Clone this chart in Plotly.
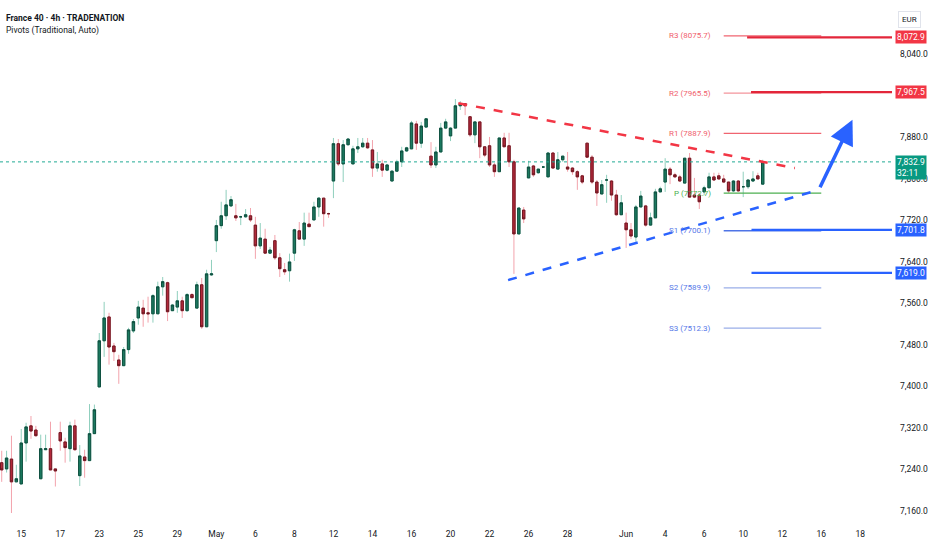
import plotly.graph_objects as go

# 4h candles, France 40
opens = [7253, 7241, 7260, 7216, 7212, 7291, 7324, 7316, 7222, 7278,
         7280, 7241, 7311, 7293, 7280, 7324, 7228, 7264, 7257, 7309,
         7399, 7488, 7534, 7478, 7451, 7440, 7471, 7507, 7532, 7551,
         7542, 7540, 7540, 7592, 7600, 7546, 7553, 7565, 7546, 7577,
         7551, 7596, 7515, 7615, 7681, 7710, 7729, 7748, 7729, 7727,
         7727, 7729, 7711, 7671, 7684, 7657, 7681, 7648, 7625, 7623,
         7657, 7700, 7684, 7713, 7721, 7746, 7763, 7733, 7796, 7868,
         7829, 7866, 7829, 7858, 7862, 7869, 7856, 7821, 7829, 7817,
         7796, 7815, 7833, 7854, 7858, 7906, 7869, 7900, 7844, 7827,
         7852, 7898, 7883, 7898, 7941, 7945, 7920, 7885, 7910, 7862,
         7864, 7827, 7814, 7879, 7864, 7833, 7694, 7740, 7802, 7825,
         7812, 7823, 7804, 7850, 7819, 7837, 7823, 7821, 7814, 7806,
         7869, 7842, 7794, 7771, 7798, 7796, 7769, 7731, 7715, 7702,
         7688, 7746, 7748, 7711, 7725, 7775, 7794, 7819, 7808, 7804,
         7792, 7840, 7769, 7769, 7775, 7783, 7804, 7806, 7800, 7794,
         7777, 7796, 7785, 7785, 7796, 7806, 7790]
highs = [7276, 7276, 7305, 7249, 7318, 7330, 7343, 7324, 7307, 7307,
         7332, 7241, 7332, 7301, 7332, 7336, 7287, 7278, 7366, 7365,
         7503, 7563, 7542, 7484, 7461, 7476, 7513, 7530, 7565, 7567,
         7573, 7578, 7602, 7611, 7602, 7559, 7584, 7573, 7580, 7580,
         7602, 7609, 7625, 7644, 7721, 7756, 7779, 7767, 7752, 7729,
         7742, 7744, 7727, 7715, 7704, 7669, 7692, 7657, 7638, 7656,
         7704, 7717, 7735, 7735, 7756, 7765, 7763, 7735, 7879, 7877,
         7875, 7879, 7864, 7879, 7879, 7879, 7875, 7852, 7837, 7829,
         7817, 7837, 7862, 7862, 7912, 7912, 7910, 7916, 7871, 7862,
         7908, 7916, 7900, 7954, 7950, 7945, 7920, 7910, 7910, 7862,
         7881, 7831, 7879, 7889, 7889, 7837, 7744, 7746, 7835, 7827,
         7819, 7825, 7852, 7852, 7852, 7844, 7852, 7823, 7817, 7808,
         7869, 7846, 7798, 7798, 7808, 7798, 7779, 7769, 7735, 7715,
         7750, 7777, 7750, 7735, 7781, 7785, 7840, 7823, 7812, 7808,
         7840, 7850, 7802, 7773, 7787, 7812, 7812, 7812, 7808, 7794,
         7798, 7798, 7814, 7798, 7815, 7812, 7837]
lows = [7216, 7234, 7156, 7216, 7212, 7255, 7299, 7303, 7222, 7278,
        7239, 7207, 7276, 7253, 7255, 7276, 7208, 7224, 7257, 7309,
        7399, 7457, 7442, 7449, 7405, 7440, 7463, 7503, 7519, 7515,
        7523, 7523, 7540, 7575, 7526, 7546, 7542, 7532, 7544, 7571,
        7551, 7511, 7515, 7613, 7659, 7704, 7721, 7746, 7719, 7711,
        7725, 7717, 7646, 7665, 7656, 7656, 7644, 7611, 7615, 7602,
        7642, 7684, 7671, 7708, 7721, 7727, 7708, 7725, 7763, 7825,
        7794, 7864, 7829, 7850, 7860, 7858, 7804, 7814, 7804, 7815,
        7796, 7814, 7823, 7852, 7858, 7856, 7860, 7900, 7821, 7821,
        7852, 7896, 7873, 7898, 7933, 7923, 7881, 7869, 7840, 7842,
        7823, 7804, 7814, 7862, 7823, 7617, 7694, 7715, 7802, 7804,
        7810, 7821, 7804, 7821, 7819, 7833, 7814, 7808, 7779, 7790,
        7842, 7790, 7748, 7771, 7754, 7758, 7729, 7731, 7667, 7684,
        7679, 7746, 7708, 7710, 7725, 7775, 7775, 7790, 7802, 7794,
        7792, 7765, 7763, 7742, 7769, 7783, 7796, 7798, 7792, 7773,
        7775, 7775, 7765, 7781, 7794, 7800, 7789]
closes = [7239, 7262, 7216, 7222, 7291, 7322, 7314, 7305, 7280, 7280,
          7239, 7237, 7295, 7282, 7324, 7278, 7266, 7257, 7309, 7355,
          7488, 7532, 7476, 7467, 7440, 7471, 7509, 7525, 7553, 7540,
          7540, 7575, 7592, 7602, 7544, 7557, 7565, 7546, 7577, 7571,
          7596, 7515, 7617, 7617, 7710, 7729, 7750, 7760, 7725, 7727,
          7731, 7721, 7671, 7686, 7657, 7663, 7648, 7627, 7621, 7640,
          7702, 7684, 7715, 7708, 7746, 7763, 7733, 7733, 7868, 7829,
          7866, 7877, 7858, 7862, 7869, 7860, 7821, 7829, 7817, 7827,
          7815, 7833, 7854, 7860, 7908, 7869, 7902, 7916, 7827, 7852,
          7898, 7910, 7898, 7941, 7945, 7941, 7885, 7910, 7862, 7846,
          7827, 7814, 7879, 7862, 7833, 7694, 7744, 7723, 7823, 7808,
          7819, 7823, 7850, 7821, 7837, 7844, 7819, 7814, 7804, 7794,
          7842, 7794, 7773, 7789, 7798, 7769, 7731, 7754, 7702, 7690,
          7746, 7767, 7711, 7725, 7775, 7781, 7819, 7808, 7804, 7796,
          7840, 7765, 7765, 7756, 7783, 7804, 7798, 7800, 7794, 7777,
          7796, 7777, 7785, 7798, 7800, 7800, 7832.9]

tick_pos = [4, 12, 20, 28, 36, 44, 52, 60, 68, 76, 84, 92, 100, 108, 116,
            128, 136, 144, 152, 160, 168, 176]
tick_text = ["15", "17", "23", "25", "29", "May", "6", "8", "12", "14", "16",
             "20", "22", "26", "28", "Jun", "4", "6", "10", "12", "16", "18"]
# 7,960.0 sits under the R2 level tag in the original, so it is left out
price_ticks = [7160, 7240, 7320, 7400, 7480, 7560, 7640, 7720, 7800, 7880, 8040]
price_text = ["7,160.0", "7,240.0", "7,320.0", "7,400.0", "7,480.0", "7,560.0",
              "7,640.0", "7,720.0", "7,800.0", "7,880.0", "8,040.0"]

pivot_names = ["R3", "R2", "R1", "P", "S1", "S2", "S3"]
pivot_vals = [8075.7, 7965.5, 7887.9, 7772.7, 7700.1, 7589.9, 7512.3]
levels = [8072.9, 7967.5, 7701.8, 7619.0]   # drawn key levels
last_price = 7832.9

x = list(range(len(opens)))
GREEN, RED = "#1b7a60", "#b3283a"

fig = go.Figure()
# wicks
fig.add_trace(go.Candlestick(
    x=x, open=opens, high=highs, low=lows, close=closes,
    increasing=dict(line=dict(color="#8fcfbd", width=1), fillcolor="#8fcfbd"),
    decreasing=dict(line=dict(color="#f3a3ac", width=1), fillcolor="#f3a3ac"),
    hoverinfo="skip", showlegend=False))
# bodies
body_hi = [max(o, c) for o, c in zip(opens, closes)]
body_lo = [min(o, c) for o, c in zip(opens, closes)]
fig.add_trace(go.Candlestick(
    x=x, open=opens, high=body_hi, low=body_lo, close=closes,
    increasing=dict(line=dict(color="#0f4f3f", width=1), fillcolor=GREEN),
    decreasing=dict(line=dict(color="#6e1822", width=1), fillcolor=RED),
    showlegend=False))

shapes = []
ann = []
# current price dotted line
shapes.append(dict(type="line", xref="paper", x0=0, x1=1, y0=last_price, y1=last_price,
                   line=dict(color="#22ab94", width=1, dash="dot")))

# pivots
piv_col = {"R": "#f0606c", "P": "#4caf50", "S": "#5577e8"}
line_col = {"R3": "#f06470", "R2": "#f3949b", "R1": "#f06470", "P": "#4caf50",
            "S1": "#4f74e6", "S2": "#9aaee8", "S3": "#9aaee8"}
for name, v in zip(pivot_names, pivot_vals):
    shapes.append(dict(type="line", x0=148, x1=168, y0=v, y1=v,
                       line=dict(color=line_col[name], width=1.3)))
    ann.append(dict(x=145.8, y=v, text=f"{name} ({v:.1f})", showarrow=False,
                    xanchor="right", font=dict(size=8, color=piv_col[name[0]])))

# thick levels
lvl_start = [152.8, 153.6, 153.7, 153.7]
lvl_col = ["#e3263a", "#e3263a", "#2962ff", "#2962ff"]
tag_col = ["#f23645", "#f23645", "#2962ff", "#2962ff"]
for v, s, c, t in zip(levels, lvl_start, lvl_col, tag_col):
    shapes.append(dict(type="line", x0=s, x1=183, y0=v, y1=v, line=dict(color=c, width=2.2)))
    ann.append(dict(xref="paper", x=1, y=v, xanchor="left", xshift=3, showarrow=False,
                    text=f"{v:,.1f}", bgcolor=t,
                    font=dict(size=8.5, color="white"), borderpad=1))

# price box with countdown
ann.append(dict(xref="paper", x=1, y=last_price, xanchor="left", xshift=3, yshift=-6,
                showarrow=False, text=f"{last_price:,.1f}<br>32:11", bgcolor="#089981",
                font=dict(size=8.5, color="white"), borderpad=1, align="left"))

# trendlines
shapes.append(dict(type="line", x0=93.6, y0=7946, x1=162.6, y1=7821,
                   line=dict(color="#f23645", width=2.5, dash="dash")))
shapes.append(dict(type="line", x0=103.8, y0=7605, x1=167.5, y1=7779,
                   line=dict(color="#2962ff", width=2.5, dash="dash")))

# arrow
ann.append(dict(x=174.4, y=7914, ax=167.6, ay=7781, axref="x", ayref="y",
                showarrow=True, arrowhead=2, arrowsize=1.4, arrowwidth=3.5,
                arrowcolor="#2962ff", text=""))

# header
ann.append(dict(xref="paper", yref="paper", x=0, y=0.979, xshift=4, xanchor="left",
                showarrow=False, text="<b>France 40 · 4h · TRADENATION</b>",
                font=dict(size=8.5, color="#131722")))
ann.append(dict(xref="paper", yref="paper", x=0, y=0.956, xshift=4, xanchor="left",
                showarrow=False, text="Pivots (Traditional, Auto)",
                font=dict(size=8.5, color="#131722")))
ann.append(dict(xref="paper", yref="paper", x=1, y=0.979, xshift=6, xanchor="left",
                showarrow=False, text="EUR", bordercolor="#e0e3eb", borderwidth=1,
                borderpad=3, font=dict(size=8, color="#131722")))

fig.update_layout(
    width=932, height=550,
    margin=dict(l=0, r=40, t=0, b=23),
    paper_bgcolor="white", plot_bgcolor="white",
    font=dict(family="Roboto, Arial", size=8.5, color="#131722"),
    shapes=shapes, annotations=ann, showlegend=False,
    xaxis=dict(range=[-0.35, 182.5], rangeslider=dict(visible=False),
               tickmode="array", tickvals=tick_pos, ticktext=tick_text,
               showgrid=False, zeroline=False, showline=False, ticks="",
               tickfont=dict(size=8.5)),
    yaxis=dict(range=[7129, 8145], side="right", tickmode="array",
               tickvals=price_ticks, ticktext=price_text, showgrid=False,
               zeroline=False, showline=False, ticks="", ticklabelstandoff=7,
               tickfont=dict(size=8.5)),
)

fig.write_html("out.html", config={"displayModeBar": False},
               post_script="document.body.style.margin='0';")
